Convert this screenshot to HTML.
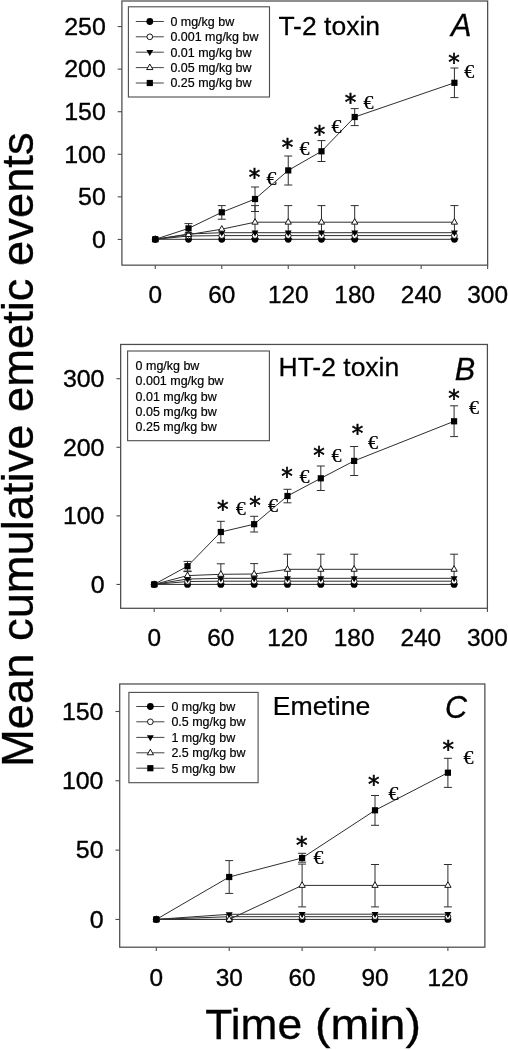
<!DOCTYPE html>
<html lang="en"><head><meta charset="utf-8"><title>Emetic events figure</title>
<style>html,body{margin:0;padding:0;background:#fff}svg{display:block}</style></head>
<body>
<svg width="508" height="1050" viewBox="0 0 508 1050">
<rect width="508" height="1050" fill="#fff"/>
<rect x="121.9" y="1" width="365.75" height="264.15" fill="none" stroke="#4c4c4c" stroke-width="1.25"/>
<line x1="117.7" y1="239.45" x2="121.9" y2="239.45" stroke="#4c4c4c" stroke-width="1.1"/>
<text transform="translate(105.8 247.73) scale(1.04 1)" font-size="24" text-anchor="end" font-family='"Liberation Sans", sans-serif' stroke="#000" stroke-width="0.35"  >0</text>
<line x1="117.7" y1="196.87" x2="121.9" y2="196.87" stroke="#4c4c4c" stroke-width="1.1"/>
<text transform="translate(105.8 205.15) scale(1.04 1)" font-size="24" text-anchor="end" font-family='"Liberation Sans", sans-serif' stroke="#000" stroke-width="0.35"  >50</text>
<line x1="117.7" y1="154.29" x2="121.9" y2="154.29" stroke="#4c4c4c" stroke-width="1.1"/>
<text transform="translate(105.8 162.57) scale(1.04 1)" font-size="24" text-anchor="end" font-family='"Liberation Sans", sans-serif' stroke="#000" stroke-width="0.35"  >100</text>
<line x1="117.7" y1="111.71" x2="121.9" y2="111.71" stroke="#4c4c4c" stroke-width="1.1"/>
<text transform="translate(105.8 119.99) scale(1.04 1)" font-size="24" text-anchor="end" font-family='"Liberation Sans", sans-serif' stroke="#000" stroke-width="0.35"  >150</text>
<line x1="117.7" y1="69.13" x2="121.9" y2="69.13" stroke="#4c4c4c" stroke-width="1.1"/>
<text transform="translate(105.8 77.41) scale(1.04 1)" font-size="24" text-anchor="end" font-family='"Liberation Sans", sans-serif' stroke="#000" stroke-width="0.35"  >200</text>
<line x1="117.7" y1="26.55" x2="121.9" y2="26.55" stroke="#4c4c4c" stroke-width="1.1"/>
<text transform="translate(105.8 34.83) scale(1.04 1)" font-size="24" text-anchor="end" font-family='"Liberation Sans", sans-serif' stroke="#000" stroke-width="0.35"  >250</text>
<line x1="155.3" y1="265.15" x2="155.3" y2="268.95" stroke="#4c4c4c" stroke-width="1.1"/>
<text x="155.3" y="303" font-size="24.4" text-anchor="middle" font-family='"Liberation Sans", sans-serif' stroke="#000" stroke-width="0.35"  >0</text>
<line x1="221.77" y1="265.15" x2="221.77" y2="268.95" stroke="#4c4c4c" stroke-width="1.1"/>
<text x="221.77" y="303" font-size="24.4" text-anchor="middle" font-family='"Liberation Sans", sans-serif' stroke="#000" stroke-width="0.35"  >60</text>
<line x1="288.24" y1="265.15" x2="288.24" y2="268.95" stroke="#4c4c4c" stroke-width="1.1"/>
<text x="288.24" y="303" font-size="24.4" text-anchor="middle" font-family='"Liberation Sans", sans-serif' stroke="#000" stroke-width="0.35"  >120</text>
<line x1="354.7" y1="265.15" x2="354.7" y2="268.95" stroke="#4c4c4c" stroke-width="1.1"/>
<text x="354.7" y="303" font-size="24.4" text-anchor="middle" font-family='"Liberation Sans", sans-serif' stroke="#000" stroke-width="0.35"  >180</text>
<line x1="421.17" y1="265.15" x2="421.17" y2="268.95" stroke="#4c4c4c" stroke-width="1.1"/>
<text x="421.17" y="303" font-size="24.4" text-anchor="middle" font-family='"Liberation Sans", sans-serif' stroke="#000" stroke-width="0.35"  >240</text>
<line x1="487.64" y1="265.15" x2="487.64" y2="268.95" stroke="#4c4c4c" stroke-width="1.1"/>
<text x="487.64" y="303" font-size="24.4" text-anchor="middle" font-family='"Liberation Sans", sans-serif' stroke="#000" stroke-width="0.35"  >300</text>
<line x1="255" y1="205.6" x2="255" y2="238.8" stroke="#2e2e2e" stroke-width="1.0"/>
<line x1="251" y1="205.6" x2="259" y2="205.6" stroke="#2e2e2e" stroke-width="1.0"/>
<line x1="251" y1="238.8" x2="259" y2="238.8" stroke="#2e2e2e" stroke-width="1.0"/>
<line x1="288.24" y1="205.6" x2="288.24" y2="238.8" stroke="#2e2e2e" stroke-width="1.0"/>
<line x1="284.24" y1="205.6" x2="292.24" y2="205.6" stroke="#2e2e2e" stroke-width="1.0"/>
<line x1="284.24" y1="238.8" x2="292.24" y2="238.8" stroke="#2e2e2e" stroke-width="1.0"/>
<line x1="321.47" y1="205.6" x2="321.47" y2="238.8" stroke="#2e2e2e" stroke-width="1.0"/>
<line x1="317.47" y1="205.6" x2="325.47" y2="205.6" stroke="#2e2e2e" stroke-width="1.0"/>
<line x1="317.47" y1="238.8" x2="325.47" y2="238.8" stroke="#2e2e2e" stroke-width="1.0"/>
<line x1="354.7" y1="205.6" x2="354.7" y2="238.8" stroke="#2e2e2e" stroke-width="1.0"/>
<line x1="350.7" y1="205.6" x2="358.7" y2="205.6" stroke="#2e2e2e" stroke-width="1.0"/>
<line x1="350.7" y1="238.8" x2="358.7" y2="238.8" stroke="#2e2e2e" stroke-width="1.0"/>
<line x1="454.41" y1="205.6" x2="454.41" y2="238.8" stroke="#2e2e2e" stroke-width="1.0"/>
<line x1="450.41" y1="205.6" x2="458.41" y2="205.6" stroke="#2e2e2e" stroke-width="1.0"/>
<line x1="450.41" y1="238.8" x2="458.41" y2="238.8" stroke="#2e2e2e" stroke-width="1.0"/>
<polyline points="155.3,239.3 188.53,239.3 221.77,239.3 255,239.3 288.24,239.3 321.47,239.3 354.7,239.3 454.41,239.3" fill="none" stroke="#2e2e2e" stroke-width="1.0"/>
<circle cx="155.3" cy="239.3" r="3.4" fill="#000"/>
<circle cx="188.53" cy="239.3" r="3.4" fill="#000"/>
<circle cx="221.77" cy="239.3" r="3.4" fill="#000"/>
<circle cx="255" cy="239.3" r="3.4" fill="#000"/>
<circle cx="288.24" cy="239.3" r="3.4" fill="#000"/>
<circle cx="321.47" cy="239.3" r="3.4" fill="#000"/>
<circle cx="354.7" cy="239.3" r="3.4" fill="#000"/>
<circle cx="454.41" cy="239.3" r="3.4" fill="#000"/>
<polyline points="155.3,239.3 188.53,236 221.77,235.6 255,235.6 288.24,235.6 321.47,235.6 354.7,235.6 454.41,235.6" fill="none" stroke="#2e2e2e" stroke-width="1.0"/>
<circle cx="155.3" cy="239.3" r="2.85" fill="#fff" stroke="#000" stroke-width="0.9"/>
<circle cx="188.53" cy="236" r="2.85" fill="#fff" stroke="#000" stroke-width="0.9"/>
<circle cx="221.77" cy="235.6" r="2.85" fill="#fff" stroke="#000" stroke-width="0.9"/>
<circle cx="255" cy="235.6" r="2.85" fill="#fff" stroke="#000" stroke-width="0.9"/>
<circle cx="288.24" cy="235.6" r="2.85" fill="#fff" stroke="#000" stroke-width="0.9"/>
<circle cx="321.47" cy="235.6" r="2.85" fill="#fff" stroke="#000" stroke-width="0.9"/>
<circle cx="354.7" cy="235.6" r="2.85" fill="#fff" stroke="#000" stroke-width="0.9"/>
<circle cx="454.41" cy="235.6" r="2.85" fill="#fff" stroke="#000" stroke-width="0.9"/>
<polyline points="155.3,239.3 188.53,234 221.77,232.7 255,232.7 288.24,232.7 321.47,232.7 354.7,232.7 454.41,232.7" fill="none" stroke="#2e2e2e" stroke-width="1.0"/>
<polygon points="151.85,237.2 158.75,237.2 155.3,243.2" fill="#000"/>
<polygon points="185.08,231.9 191.98,231.9 188.53,237.9" fill="#000"/>
<polygon points="218.32,230.6 225.22,230.6 221.77,236.6" fill="#000"/>
<polygon points="251.55,230.6 258.45,230.6 255,236.6" fill="#000"/>
<polygon points="284.79,230.6 291.69,230.6 288.24,236.6" fill="#000"/>
<polygon points="318.02,230.6 324.92,230.6 321.47,236.6" fill="#000"/>
<polygon points="351.25,230.6 358.15,230.6 354.7,236.6" fill="#000"/>
<polygon points="450.96,230.6 457.86,230.6 454.41,236.6" fill="#000"/>
<polyline points="155.3,239.3 188.53,234.6 221.77,229.2 255,222.2 288.24,222.2 321.47,222.2 354.7,222.2 454.41,222.2" fill="none" stroke="#2e2e2e" stroke-width="1.0"/>
<polygon points="152.15,241.25 158.45,241.25 155.3,235.7" fill="#fff" stroke="#000" stroke-width="0.9" stroke-linejoin="miter"/>
<polygon points="185.38,236.55 191.68,236.55 188.53,231" fill="#fff" stroke="#000" stroke-width="0.9" stroke-linejoin="miter"/>
<polygon points="218.62,231.15 224.92,231.15 221.77,225.6" fill="#fff" stroke="#000" stroke-width="0.9" stroke-linejoin="miter"/>
<polygon points="251.85,224.15 258.15,224.15 255,218.6" fill="#fff" stroke="#000" stroke-width="0.9" stroke-linejoin="miter"/>
<polygon points="285.09,224.15 291.39,224.15 288.24,218.6" fill="#fff" stroke="#000" stroke-width="0.9" stroke-linejoin="miter"/>
<polygon points="318.32,224.15 324.62,224.15 321.47,218.6" fill="#fff" stroke="#000" stroke-width="0.9" stroke-linejoin="miter"/>
<polygon points="351.55,224.15 357.85,224.15 354.7,218.6" fill="#fff" stroke="#000" stroke-width="0.9" stroke-linejoin="miter"/>
<polygon points="451.26,224.15 457.56,224.15 454.41,218.6" fill="#fff" stroke="#000" stroke-width="0.9" stroke-linejoin="miter"/>
<line x1="188.53" y1="223.6" x2="188.53" y2="233.2" stroke="#2e2e2e" stroke-width="1.0"/>
<line x1="184.53" y1="223.6" x2="192.53" y2="223.6" stroke="#2e2e2e" stroke-width="1.0"/>
<line x1="184.53" y1="233.2" x2="192.53" y2="233.2" stroke="#2e2e2e" stroke-width="1.0"/>
<line x1="221.77" y1="205.6" x2="221.77" y2="219.2" stroke="#2e2e2e" stroke-width="1.0"/>
<line x1="217.77" y1="205.6" x2="225.77" y2="205.6" stroke="#2e2e2e" stroke-width="1.0"/>
<line x1="217.77" y1="219.2" x2="225.77" y2="219.2" stroke="#2e2e2e" stroke-width="1.0"/>
<line x1="255" y1="187" x2="255" y2="211.5" stroke="#2e2e2e" stroke-width="1.0"/>
<line x1="251" y1="187" x2="259" y2="187" stroke="#2e2e2e" stroke-width="1.0"/>
<line x1="251" y1="211.5" x2="259" y2="211.5" stroke="#2e2e2e" stroke-width="1.0"/>
<line x1="288.24" y1="156" x2="288.24" y2="185" stroke="#2e2e2e" stroke-width="1.0"/>
<line x1="284.24" y1="156" x2="292.24" y2="156" stroke="#2e2e2e" stroke-width="1.0"/>
<line x1="284.24" y1="185" x2="292.24" y2="185" stroke="#2e2e2e" stroke-width="1.0"/>
<line x1="321.47" y1="140.6" x2="321.47" y2="161.5" stroke="#2e2e2e" stroke-width="1.0"/>
<line x1="317.47" y1="140.6" x2="325.47" y2="140.6" stroke="#2e2e2e" stroke-width="1.0"/>
<line x1="317.47" y1="161.5" x2="325.47" y2="161.5" stroke="#2e2e2e" stroke-width="1.0"/>
<line x1="354.7" y1="108.6" x2="354.7" y2="125.6" stroke="#2e2e2e" stroke-width="1.0"/>
<line x1="350.7" y1="108.6" x2="358.7" y2="108.6" stroke="#2e2e2e" stroke-width="1.0"/>
<line x1="350.7" y1="125.6" x2="358.7" y2="125.6" stroke="#2e2e2e" stroke-width="1.0"/>
<line x1="454.41" y1="68" x2="454.41" y2="97.6" stroke="#2e2e2e" stroke-width="1.0"/>
<line x1="450.41" y1="68" x2="458.41" y2="68" stroke="#2e2e2e" stroke-width="1.0"/>
<line x1="450.41" y1="97.6" x2="458.41" y2="97.6" stroke="#2e2e2e" stroke-width="1.0"/>
<polyline points="155.3,239.3 188.53,228.4 221.77,212.3 255,199 288.24,170.4 321.47,151.3 354.7,117 454.41,82.8" fill="none" stroke="#2e2e2e" stroke-width="1.0"/>
<rect x="152.2" y="236.2" width="6.2" height="6.2" fill="#000"/>
<rect x="185.43" y="225.3" width="6.2" height="6.2" fill="#000"/>
<rect x="218.67" y="209.2" width="6.2" height="6.2" fill="#000"/>
<rect x="251.9" y="195.9" width="6.2" height="6.2" fill="#000"/>
<rect x="285.14" y="167.3" width="6.2" height="6.2" fill="#000"/>
<rect x="318.37" y="148.2" width="6.2" height="6.2" fill="#000"/>
<rect x="351.6" y="113.9" width="6.2" height="6.2" fill="#000"/>
<rect x="451.31" y="79.7" width="6.2" height="6.2" fill="#000"/>
<text x="254.5" y="185" font-size="23" text-anchor="middle" font-family='"DejaVu Sans", "Liberation Sans", sans-serif' stroke="#000" stroke-width="0.6"  >*</text>
<text x="287.4" y="155.1" font-size="23" text-anchor="middle" font-family='"DejaVu Sans", "Liberation Sans", sans-serif' stroke="#000" stroke-width="0.6"  >*</text>
<text x="319.4" y="142.3" font-size="23" text-anchor="middle" font-family='"DejaVu Sans", "Liberation Sans", sans-serif' stroke="#000" stroke-width="0.6"  >*</text>
<text x="350.6" y="110.4" font-size="23" text-anchor="middle" font-family='"DejaVu Sans", "Liberation Sans", sans-serif' stroke="#000" stroke-width="0.6"  >*</text>
<text x="454" y="70.1" font-size="23" text-anchor="middle" font-family='"DejaVu Sans", "Liberation Sans", sans-serif' stroke="#000" stroke-width="0.6"  >*</text>
<text transform="translate(271.5 184.92) scale(1.08 1)" font-size="18.6" text-anchor="middle" font-family='"Liberation Serif", "DejaVu Serif", serif' stroke="#000" stroke-width="0.2"  >&#8364;</text>
<text transform="translate(304.5 154.72) scale(1.08 1)" font-size="18.6" text-anchor="middle" font-family='"Liberation Serif", "DejaVu Serif", serif' stroke="#000" stroke-width="0.2"  >&#8364;</text>
<text transform="translate(336.5 133.42) scale(1.08 1)" font-size="18.6" text-anchor="middle" font-family='"Liberation Serif", "DejaVu Serif", serif' stroke="#000" stroke-width="0.2"  >&#8364;</text>
<text transform="translate(368.5 108.62) scale(1.08 1)" font-size="18.6" text-anchor="middle" font-family='"Liberation Serif", "DejaVu Serif", serif' stroke="#000" stroke-width="0.2"  >&#8364;</text>
<text transform="translate(469.3 77.72) scale(1.08 1)" font-size="18.6" text-anchor="middle" font-family='"Liberation Serif", "DejaVu Serif", serif' stroke="#000" stroke-width="0.2"  >&#8364;</text>
<rect x="128.4" y="6.8" width="141.1" height="90.2" fill="#fff" stroke="#4c4c4c" stroke-width="1.1"/>
<line x1="135.8" y1="21.5" x2="163.8" y2="21.5" stroke="#444" stroke-width="1.0"/>
<circle cx="149.8" cy="21.5" r="3.4" fill="#000"/>
<text transform="translate(170.4 25.93) scale(1.015 1)" font-size="12.3" text-anchor="start" font-family='"Liberation Sans", sans-serif' stroke="#000" stroke-width="0.2"  >0 mg/kg bw</text>
<line x1="135.8" y1="36.8" x2="163.8" y2="36.8" stroke="#444" stroke-width="1.0"/>
<circle cx="149.8" cy="36.8" r="2.85" fill="#fff" stroke="#000" stroke-width="0.9"/>
<text transform="translate(170.4 41.23) scale(1.015 1)" font-size="12.3" text-anchor="start" font-family='"Liberation Sans", sans-serif' stroke="#000" stroke-width="0.2"  >0.001 mg/kg bw</text>
<line x1="135.8" y1="52.2" x2="163.8" y2="52.2" stroke="#444" stroke-width="1.0"/>
<polygon points="146.35,50.1 153.25,50.1 149.8,56.1" fill="#000"/>
<text transform="translate(170.4 56.63) scale(1.015 1)" font-size="12.3" text-anchor="start" font-family='"Liberation Sans", sans-serif' stroke="#000" stroke-width="0.2"  >0.01 mg/kg bw</text>
<line x1="135.8" y1="67.6" x2="163.8" y2="67.6" stroke="#444" stroke-width="1.0"/>
<polygon points="146.65,69.55 152.95,69.55 149.8,64" fill="#fff" stroke="#000" stroke-width="0.9" stroke-linejoin="miter"/>
<text transform="translate(170.4 72.03) scale(1.015 1)" font-size="12.3" text-anchor="start" font-family='"Liberation Sans", sans-serif' stroke="#000" stroke-width="0.2"  >0.05 mg/kg bw</text>
<line x1="135.8" y1="83" x2="163.8" y2="83" stroke="#444" stroke-width="1.0"/>
<rect x="146.7" y="79.9" width="6.2" height="6.2" fill="#000"/>
<text transform="translate(170.4 87.43) scale(1.015 1)" font-size="12.3" text-anchor="start" font-family='"Liberation Sans", sans-serif' stroke="#000" stroke-width="0.2"  >0.25 mg/kg bw</text>
<text transform="translate(278.4 34.9) scale(1.008 1)" font-size="26.3" text-anchor="start" font-family='"Liberation Sans", sans-serif' stroke="#000" stroke-width="0.25"  >T-2 toxin</text>
<text x="451" y="36.1" font-size="30.6" text-anchor="start" font-family='"Liberation Sans", sans-serif' stroke="#000" stroke-width="0.3" font-style="italic" >A</text>
<rect x="120.66" y="344.45" width="366.74" height="263.85" fill="none" stroke="#4c4c4c" stroke-width="1.25"/>
<line x1="116.46" y1="584.45" x2="120.66" y2="584.45" stroke="#4c4c4c" stroke-width="1.1"/>
<text transform="translate(104.5 592.73) scale(1.04 1)" font-size="24" text-anchor="end" font-family='"Liberation Sans", sans-serif' stroke="#000" stroke-width="0.35"  >0</text>
<line x1="116.46" y1="515.87" x2="120.66" y2="515.87" stroke="#4c4c4c" stroke-width="1.1"/>
<text transform="translate(104.5 524.15) scale(1.04 1)" font-size="24" text-anchor="end" font-family='"Liberation Sans", sans-serif' stroke="#000" stroke-width="0.35"  >100</text>
<line x1="116.46" y1="447.29" x2="120.66" y2="447.29" stroke="#4c4c4c" stroke-width="1.1"/>
<text transform="translate(104.5 455.57) scale(1.04 1)" font-size="24" text-anchor="end" font-family='"Liberation Sans", sans-serif' stroke="#000" stroke-width="0.35"  >200</text>
<line x1="116.46" y1="378.71" x2="120.66" y2="378.71" stroke="#4c4c4c" stroke-width="1.1"/>
<text transform="translate(104.5 386.99) scale(1.04 1)" font-size="24" text-anchor="end" font-family='"Liberation Sans", sans-serif' stroke="#000" stroke-width="0.35"  >300</text>
<line x1="154.2" y1="608.3" x2="154.2" y2="612.1" stroke="#4c4c4c" stroke-width="1.1"/>
<text x="154.2" y="646" font-size="24.4" text-anchor="middle" font-family='"Liberation Sans", sans-serif' stroke="#000" stroke-width="0.35"  >0</text>
<line x1="220.84" y1="608.3" x2="220.84" y2="612.1" stroke="#4c4c4c" stroke-width="1.1"/>
<text x="220.84" y="646" font-size="24.4" text-anchor="middle" font-family='"Liberation Sans", sans-serif' stroke="#000" stroke-width="0.35"  >60</text>
<line x1="287.48" y1="608.3" x2="287.48" y2="612.1" stroke="#4c4c4c" stroke-width="1.1"/>
<text x="287.48" y="646" font-size="24.4" text-anchor="middle" font-family='"Liberation Sans", sans-serif' stroke="#000" stroke-width="0.35"  >120</text>
<line x1="354.13" y1="608.3" x2="354.13" y2="612.1" stroke="#4c4c4c" stroke-width="1.1"/>
<text x="354.13" y="646" font-size="24.4" text-anchor="middle" font-family='"Liberation Sans", sans-serif' stroke="#000" stroke-width="0.35"  >180</text>
<line x1="420.77" y1="608.3" x2="420.77" y2="612.1" stroke="#4c4c4c" stroke-width="1.1"/>
<text x="420.77" y="646" font-size="24.4" text-anchor="middle" font-family='"Liberation Sans", sans-serif' stroke="#000" stroke-width="0.35"  >240</text>
<line x1="487.41" y1="608.3" x2="487.41" y2="612.1" stroke="#4c4c4c" stroke-width="1.1"/>
<text x="487.41" y="646" font-size="24.4" text-anchor="middle" font-family='"Liberation Sans", sans-serif' stroke="#000" stroke-width="0.35"  >300</text>
<line x1="187.52" y1="571.6" x2="187.52" y2="579.6" stroke="#2e2e2e" stroke-width="1.0"/>
<line x1="183.52" y1="571.6" x2="191.52" y2="571.6" stroke="#2e2e2e" stroke-width="1.0"/>
<line x1="183.52" y1="579.6" x2="191.52" y2="579.6" stroke="#2e2e2e" stroke-width="1.0"/>
<line x1="220.84" y1="563.8" x2="220.84" y2="584" stroke="#2e2e2e" stroke-width="1.0"/>
<line x1="216.84" y1="563.8" x2="224.84" y2="563.8" stroke="#2e2e2e" stroke-width="1.0"/>
<line x1="216.84" y1="584" x2="224.84" y2="584" stroke="#2e2e2e" stroke-width="1.0"/>
<line x1="254.16" y1="563.6" x2="254.16" y2="584" stroke="#2e2e2e" stroke-width="1.0"/>
<line x1="250.16" y1="563.6" x2="258.16" y2="563.6" stroke="#2e2e2e" stroke-width="1.0"/>
<line x1="250.16" y1="584" x2="258.16" y2="584" stroke="#2e2e2e" stroke-width="1.0"/>
<line x1="287.48" y1="554.2" x2="287.48" y2="584" stroke="#2e2e2e" stroke-width="1.0"/>
<line x1="283.48" y1="554.2" x2="291.48" y2="554.2" stroke="#2e2e2e" stroke-width="1.0"/>
<line x1="283.48" y1="584" x2="291.48" y2="584" stroke="#2e2e2e" stroke-width="1.0"/>
<line x1="320.8" y1="554.2" x2="320.8" y2="584" stroke="#2e2e2e" stroke-width="1.0"/>
<line x1="316.8" y1="554.2" x2="324.8" y2="554.2" stroke="#2e2e2e" stroke-width="1.0"/>
<line x1="316.8" y1="584" x2="324.8" y2="584" stroke="#2e2e2e" stroke-width="1.0"/>
<line x1="354.13" y1="554.2" x2="354.13" y2="584" stroke="#2e2e2e" stroke-width="1.0"/>
<line x1="350.13" y1="554.2" x2="358.13" y2="554.2" stroke="#2e2e2e" stroke-width="1.0"/>
<line x1="350.13" y1="584" x2="358.13" y2="584" stroke="#2e2e2e" stroke-width="1.0"/>
<line x1="454.09" y1="554.2" x2="454.09" y2="584" stroke="#2e2e2e" stroke-width="1.0"/>
<line x1="450.09" y1="554.2" x2="458.09" y2="554.2" stroke="#2e2e2e" stroke-width="1.0"/>
<line x1="450.09" y1="584" x2="458.09" y2="584" stroke="#2e2e2e" stroke-width="1.0"/>
<polyline points="154.2,584.4 187.52,584.4 220.84,584.4 254.16,584.4 287.48,584.4 320.8,584.4 354.13,584.4 454.09,584.4" fill="none" stroke="#2e2e2e" stroke-width="1.0"/>
<circle cx="154.2" cy="584.4" r="3.4" fill="#000"/>
<circle cx="187.52" cy="584.4" r="3.4" fill="#000"/>
<circle cx="220.84" cy="584.4" r="3.4" fill="#000"/>
<circle cx="254.16" cy="584.4" r="3.4" fill="#000"/>
<circle cx="287.48" cy="584.4" r="3.4" fill="#000"/>
<circle cx="320.8" cy="584.4" r="3.4" fill="#000"/>
<circle cx="354.13" cy="584.4" r="3.4" fill="#000"/>
<circle cx="454.09" cy="584.4" r="3.4" fill="#000"/>
<polyline points="154.2,584.4 187.52,581.5 220.84,581.2 254.16,581.2 287.48,581.2 320.8,581.2 354.13,581.2 454.09,581.2" fill="none" stroke="#2e2e2e" stroke-width="1.0"/>
<circle cx="154.2" cy="584.4" r="2.85" fill="#fff" stroke="#000" stroke-width="0.9"/>
<circle cx="187.52" cy="581.5" r="2.85" fill="#fff" stroke="#000" stroke-width="0.9"/>
<circle cx="220.84" cy="581.2" r="2.85" fill="#fff" stroke="#000" stroke-width="0.9"/>
<circle cx="254.16" cy="581.2" r="2.85" fill="#fff" stroke="#000" stroke-width="0.9"/>
<circle cx="287.48" cy="581.2" r="2.85" fill="#fff" stroke="#000" stroke-width="0.9"/>
<circle cx="320.8" cy="581.2" r="2.85" fill="#fff" stroke="#000" stroke-width="0.9"/>
<circle cx="354.13" cy="581.2" r="2.85" fill="#fff" stroke="#000" stroke-width="0.9"/>
<circle cx="454.09" cy="581.2" r="2.85" fill="#fff" stroke="#000" stroke-width="0.9"/>
<polyline points="154.2,584.4 187.52,579 220.84,578.3 254.16,578.3 287.48,578.3 320.8,578.3 354.13,578.3 454.09,578.3" fill="none" stroke="#2e2e2e" stroke-width="1.0"/>
<polygon points="150.75,582.3 157.65,582.3 154.2,588.3" fill="#000"/>
<polygon points="184.07,576.9 190.97,576.9 187.52,582.9" fill="#000"/>
<polygon points="217.39,576.2 224.29,576.2 220.84,582.2" fill="#000"/>
<polygon points="250.71,576.2 257.61,576.2 254.16,582.2" fill="#000"/>
<polygon points="284.03,576.2 290.93,576.2 287.48,582.2" fill="#000"/>
<polygon points="317.35,576.2 324.25,576.2 320.8,582.2" fill="#000"/>
<polygon points="350.68,576.2 357.58,576.2 354.13,582.2" fill="#000"/>
<polygon points="450.64,576.2 457.54,576.2 454.09,582.2" fill="#000"/>
<polyline points="154.2,584.4 187.52,575.6 220.84,574.3 254.16,574 287.48,569.3 320.8,569.3 354.13,569.3 454.09,569.3" fill="none" stroke="#2e2e2e" stroke-width="1.0"/>
<polygon points="151.05,586.35 157.35,586.35 154.2,580.8" fill="#fff" stroke="#000" stroke-width="0.9" stroke-linejoin="miter"/>
<polygon points="184.37,577.55 190.67,577.55 187.52,572" fill="#fff" stroke="#000" stroke-width="0.9" stroke-linejoin="miter"/>
<polygon points="217.69,576.25 223.99,576.25 220.84,570.7" fill="#fff" stroke="#000" stroke-width="0.9" stroke-linejoin="miter"/>
<polygon points="251.01,575.95 257.31,575.95 254.16,570.4" fill="#fff" stroke="#000" stroke-width="0.9" stroke-linejoin="miter"/>
<polygon points="284.33,571.25 290.63,571.25 287.48,565.7" fill="#fff" stroke="#000" stroke-width="0.9" stroke-linejoin="miter"/>
<polygon points="317.65,571.25 323.95,571.25 320.8,565.7" fill="#fff" stroke="#000" stroke-width="0.9" stroke-linejoin="miter"/>
<polygon points="350.98,571.25 357.28,571.25 354.13,565.7" fill="#fff" stroke="#000" stroke-width="0.9" stroke-linejoin="miter"/>
<polygon points="450.94,571.25 457.24,571.25 454.09,565.7" fill="#fff" stroke="#000" stroke-width="0.9" stroke-linejoin="miter"/>
<line x1="187.52" y1="561.4" x2="187.52" y2="571" stroke="#2e2e2e" stroke-width="1.0"/>
<line x1="183.52" y1="561.4" x2="191.52" y2="561.4" stroke="#2e2e2e" stroke-width="1.0"/>
<line x1="183.52" y1="571" x2="191.52" y2="571" stroke="#2e2e2e" stroke-width="1.0"/>
<line x1="220.84" y1="521.3" x2="220.84" y2="542.8" stroke="#2e2e2e" stroke-width="1.0"/>
<line x1="216.84" y1="521.3" x2="224.84" y2="521.3" stroke="#2e2e2e" stroke-width="1.0"/>
<line x1="216.84" y1="542.8" x2="224.84" y2="542.8" stroke="#2e2e2e" stroke-width="1.0"/>
<line x1="254.16" y1="516.3" x2="254.16" y2="532" stroke="#2e2e2e" stroke-width="1.0"/>
<line x1="250.16" y1="516.3" x2="258.16" y2="516.3" stroke="#2e2e2e" stroke-width="1.0"/>
<line x1="250.16" y1="532" x2="258.16" y2="532" stroke="#2e2e2e" stroke-width="1.0"/>
<line x1="287.48" y1="489.3" x2="287.48" y2="502.8" stroke="#2e2e2e" stroke-width="1.0"/>
<line x1="283.48" y1="489.3" x2="291.48" y2="489.3" stroke="#2e2e2e" stroke-width="1.0"/>
<line x1="283.48" y1="502.8" x2="291.48" y2="502.8" stroke="#2e2e2e" stroke-width="1.0"/>
<line x1="320.8" y1="466" x2="320.8" y2="490.5" stroke="#2e2e2e" stroke-width="1.0"/>
<line x1="316.8" y1="466" x2="324.8" y2="466" stroke="#2e2e2e" stroke-width="1.0"/>
<line x1="316.8" y1="490.5" x2="324.8" y2="490.5" stroke="#2e2e2e" stroke-width="1.0"/>
<line x1="354.13" y1="446.5" x2="354.13" y2="475.5" stroke="#2e2e2e" stroke-width="1.0"/>
<line x1="350.13" y1="446.5" x2="358.13" y2="446.5" stroke="#2e2e2e" stroke-width="1.0"/>
<line x1="350.13" y1="475.5" x2="358.13" y2="475.5" stroke="#2e2e2e" stroke-width="1.0"/>
<line x1="454.09" y1="405.8" x2="454.09" y2="436.6" stroke="#2e2e2e" stroke-width="1.0"/>
<line x1="450.09" y1="405.8" x2="458.09" y2="405.8" stroke="#2e2e2e" stroke-width="1.0"/>
<line x1="450.09" y1="436.6" x2="458.09" y2="436.6" stroke="#2e2e2e" stroke-width="1.0"/>
<polyline points="154.2,584.4 187.52,566.2 220.84,532 254.16,524.2 287.48,496 320.8,478.3 354.13,460.9 454.09,421.3" fill="none" stroke="#2e2e2e" stroke-width="1.0"/>
<rect x="151.1" y="581.3" width="6.2" height="6.2" fill="#000"/>
<rect x="184.42" y="563.1" width="6.2" height="6.2" fill="#000"/>
<rect x="217.74" y="528.9" width="6.2" height="6.2" fill="#000"/>
<rect x="251.06" y="521.1" width="6.2" height="6.2" fill="#000"/>
<rect x="284.38" y="492.9" width="6.2" height="6.2" fill="#000"/>
<rect x="317.7" y="475.2" width="6.2" height="6.2" fill="#000"/>
<rect x="351.03" y="457.8" width="6.2" height="6.2" fill="#000"/>
<rect x="450.99" y="418.2" width="6.2" height="6.2" fill="#000"/>
<text x="222.8" y="516.8" font-size="23" text-anchor="middle" font-family='"DejaVu Sans", "Liberation Sans", sans-serif' stroke="#000" stroke-width="0.6"  >*</text>
<text x="255" y="513" font-size="23" text-anchor="middle" font-family='"DejaVu Sans", "Liberation Sans", sans-serif' stroke="#000" stroke-width="0.6"  >*</text>
<text x="287.1" y="484.1" font-size="23" text-anchor="middle" font-family='"DejaVu Sans", "Liberation Sans", sans-serif' stroke="#000" stroke-width="0.6"  >*</text>
<text x="319.1" y="463.1" font-size="23" text-anchor="middle" font-family='"DejaVu Sans", "Liberation Sans", sans-serif' stroke="#000" stroke-width="0.6"  >*</text>
<text x="357.5" y="441.4" font-size="23" text-anchor="middle" font-family='"DejaVu Sans", "Liberation Sans", sans-serif' stroke="#000" stroke-width="0.6"  >*</text>
<text x="453.9" y="406.2" font-size="23" text-anchor="middle" font-family='"DejaVu Sans", "Liberation Sans", sans-serif' stroke="#000" stroke-width="0.6"  >*</text>
<text transform="translate(240.8 514.62) scale(1.08 1)" font-size="18.6" text-anchor="middle" font-family='"Liberation Serif", "DejaVu Serif", serif' stroke="#000" stroke-width="0.2"  >&#8364;</text>
<text transform="translate(272.9 512.12) scale(1.08 1)" font-size="18.6" text-anchor="middle" font-family='"Liberation Serif", "DejaVu Serif", serif' stroke="#000" stroke-width="0.2"  >&#8364;</text>
<text transform="translate(304.5 483.12) scale(1.08 1)" font-size="18.6" text-anchor="middle" font-family='"Liberation Serif", "DejaVu Serif", serif' stroke="#000" stroke-width="0.2"  >&#8364;</text>
<text transform="translate(336.5 461.62) scale(1.08 1)" font-size="18.6" text-anchor="middle" font-family='"Liberation Serif", "DejaVu Serif", serif' stroke="#000" stroke-width="0.2"  >&#8364;</text>
<text transform="translate(373.1 448.62) scale(1.08 1)" font-size="18.6" text-anchor="middle" font-family='"Liberation Serif", "DejaVu Serif", serif' stroke="#000" stroke-width="0.2"  >&#8364;</text>
<text transform="translate(474 413.82) scale(1.08 1)" font-size="18.6" text-anchor="middle" font-family='"Liberation Serif", "DejaVu Serif", serif' stroke="#000" stroke-width="0.2"  >&#8364;</text>
<rect x="127.6" y="351" width="141.8" height="89.7" fill="#fff" stroke="#4c4c4c" stroke-width="1.1"/>
<text transform="translate(135.6 370.03) scale(1.015 1)" font-size="12.3" text-anchor="start" font-family='"Liberation Sans", sans-serif' stroke="#000" stroke-width="0.2"  >0 mg/kg bw</text>
<text transform="translate(135.6 385.43) scale(1.015 1)" font-size="12.3" text-anchor="start" font-family='"Liberation Sans", sans-serif' stroke="#000" stroke-width="0.2"  >0.001 mg/kg bw</text>
<text transform="translate(135.6 400.73) scale(1.015 1)" font-size="12.3" text-anchor="start" font-family='"Liberation Sans", sans-serif' stroke="#000" stroke-width="0.2"  >0.01 mg/kg bw</text>
<text transform="translate(135.6 416.03) scale(1.015 1)" font-size="12.3" text-anchor="start" font-family='"Liberation Sans", sans-serif' stroke="#000" stroke-width="0.2"  >0.05 mg/kg bw</text>
<text transform="translate(135.6 431.23) scale(1.015 1)" font-size="12.3" text-anchor="start" font-family='"Liberation Sans", sans-serif' stroke="#000" stroke-width="0.2"  >0.25 mg/kg bw</text>
<text transform="translate(278.5 375.7) scale(1.008 1)" font-size="26.3" text-anchor="start" font-family='"Liberation Sans", sans-serif' stroke="#000" stroke-width="0.25"  >HT-2 toxin</text>
<text x="454.8" y="379.6" font-size="30.6" text-anchor="start" font-family='"Liberation Sans", sans-serif' stroke="#000" stroke-width="0.3" font-style="italic" >B</text>
<rect x="119.7" y="683.98" width="365.16" height="263.22" fill="none" stroke="#4c4c4c" stroke-width="1.25"/>
<line x1="115.5" y1="919.45" x2="119.7" y2="919.45" stroke="#4c4c4c" stroke-width="1.1"/>
<text transform="translate(103.5 927.73) scale(1.04 1)" font-size="24" text-anchor="end" font-family='"Liberation Sans", sans-serif' stroke="#000" stroke-width="0.35"  >0</text>
<line x1="115.5" y1="850.13" x2="119.7" y2="850.13" stroke="#4c4c4c" stroke-width="1.1"/>
<text transform="translate(103.5 858.41) scale(1.04 1)" font-size="24" text-anchor="end" font-family='"Liberation Sans", sans-serif' stroke="#000" stroke-width="0.35"  >50</text>
<line x1="115.5" y1="780.82" x2="119.7" y2="780.82" stroke="#4c4c4c" stroke-width="1.1"/>
<text transform="translate(103.5 789.1) scale(1.04 1)" font-size="24" text-anchor="end" font-family='"Liberation Sans", sans-serif' stroke="#000" stroke-width="0.35"  >100</text>
<line x1="115.5" y1="711.5" x2="119.7" y2="711.5" stroke="#4c4c4c" stroke-width="1.1"/>
<text transform="translate(103.5 719.78) scale(1.04 1)" font-size="24" text-anchor="end" font-family='"Liberation Sans", sans-serif' stroke="#000" stroke-width="0.35"  >150</text>
<line x1="156.3" y1="947.2" x2="156.3" y2="951" stroke="#4c4c4c" stroke-width="1.1"/>
<text x="156.3" y="985.6" font-size="24.4" text-anchor="middle" font-family='"Liberation Sans", sans-serif' stroke="#000" stroke-width="0.35"  >0</text>
<line x1="229.2" y1="947.2" x2="229.2" y2="951" stroke="#4c4c4c" stroke-width="1.1"/>
<text x="229.2" y="985.6" font-size="24.4" text-anchor="middle" font-family='"Liberation Sans", sans-serif' stroke="#000" stroke-width="0.35"  >30</text>
<line x1="302.1" y1="947.2" x2="302.1" y2="951" stroke="#4c4c4c" stroke-width="1.1"/>
<text x="302.1" y="985.6" font-size="24.4" text-anchor="middle" font-family='"Liberation Sans", sans-serif' stroke="#000" stroke-width="0.35"  >60</text>
<line x1="375" y1="947.2" x2="375" y2="951" stroke="#4c4c4c" stroke-width="1.1"/>
<text x="375" y="985.6" font-size="24.4" text-anchor="middle" font-family='"Liberation Sans", sans-serif' stroke="#000" stroke-width="0.35"  >90</text>
<line x1="447.9" y1="947.2" x2="447.9" y2="951" stroke="#4c4c4c" stroke-width="1.1"/>
<text x="447.9" y="985.6" font-size="24.4" text-anchor="middle" font-family='"Liberation Sans", sans-serif' stroke="#000" stroke-width="0.35"  >120</text>
<line x1="302.1" y1="864.1" x2="302.1" y2="906.9" stroke="#2e2e2e" stroke-width="1.0"/>
<line x1="298.1" y1="864.1" x2="306.1" y2="864.1" stroke="#2e2e2e" stroke-width="1.0"/>
<line x1="298.1" y1="906.9" x2="306.1" y2="906.9" stroke="#2e2e2e" stroke-width="1.0"/>
<line x1="375" y1="864.5" x2="375" y2="906.9" stroke="#2e2e2e" stroke-width="1.0"/>
<line x1="371" y1="864.5" x2="379" y2="864.5" stroke="#2e2e2e" stroke-width="1.0"/>
<line x1="371" y1="906.9" x2="379" y2="906.9" stroke="#2e2e2e" stroke-width="1.0"/>
<line x1="447.9" y1="864.5" x2="447.9" y2="906.9" stroke="#2e2e2e" stroke-width="1.0"/>
<line x1="443.9" y1="864.5" x2="451.9" y2="864.5" stroke="#2e2e2e" stroke-width="1.0"/>
<line x1="443.9" y1="906.9" x2="451.9" y2="906.9" stroke="#2e2e2e" stroke-width="1.0"/>
<polyline points="156.3,919.4 229.2,919.4 302.1,919.4 375,919.4 447.9,919.4" fill="none" stroke="#2e2e2e" stroke-width="1.0"/>
<circle cx="156.3" cy="919.4" r="3.4" fill="#000"/>
<circle cx="229.2" cy="919.4" r="3.4" fill="#000"/>
<circle cx="302.1" cy="919.4" r="3.4" fill="#000"/>
<circle cx="375" cy="919.4" r="3.4" fill="#000"/>
<circle cx="447.9" cy="919.4" r="3.4" fill="#000"/>
<polyline points="156.3,919.4 229.2,916.7 302.1,916.7 375,916.7 447.9,916.7" fill="none" stroke="#2e2e2e" stroke-width="1.0"/>
<circle cx="156.3" cy="919.4" r="2.85" fill="#fff" stroke="#000" stroke-width="0.9"/>
<circle cx="229.2" cy="916.7" r="2.85" fill="#fff" stroke="#000" stroke-width="0.9"/>
<circle cx="302.1" cy="916.7" r="2.85" fill="#fff" stroke="#000" stroke-width="0.9"/>
<circle cx="375" cy="916.7" r="2.85" fill="#fff" stroke="#000" stroke-width="0.9"/>
<circle cx="447.9" cy="916.7" r="2.85" fill="#fff" stroke="#000" stroke-width="0.9"/>
<polyline points="156.3,919.4 229.2,914.3 302.1,914.2 375,914.2 447.9,914.2" fill="none" stroke="#2e2e2e" stroke-width="1.0"/>
<polygon points="152.85,917.3 159.75,917.3 156.3,923.3" fill="#000"/>
<polygon points="225.75,912.2 232.65,912.2 229.2,918.2" fill="#000"/>
<polygon points="298.65,912.1 305.55,912.1 302.1,918.1" fill="#000"/>
<polygon points="371.55,912.1 378.45,912.1 375,918.1" fill="#000"/>
<polygon points="444.45,912.1 451.35,912.1 447.9,918.1" fill="#000"/>
<polyline points="156.3,919.4 229.2,919.4 302.1,885.4 375,885.4 447.9,885.4" fill="none" stroke="#2e2e2e" stroke-width="1.0"/>
<polygon points="153.15,921.35 159.45,921.35 156.3,915.8" fill="#fff" stroke="#000" stroke-width="0.9" stroke-linejoin="miter"/>
<polygon points="226.05,921.35 232.35,921.35 229.2,915.8" fill="#fff" stroke="#000" stroke-width="0.9" stroke-linejoin="miter"/>
<polygon points="298.95,887.35 305.25,887.35 302.1,881.8" fill="#fff" stroke="#000" stroke-width="0.9" stroke-linejoin="miter"/>
<polygon points="371.85,887.35 378.15,887.35 375,881.8" fill="#fff" stroke="#000" stroke-width="0.9" stroke-linejoin="miter"/>
<polygon points="444.75,887.35 451.05,887.35 447.9,881.8" fill="#fff" stroke="#000" stroke-width="0.9" stroke-linejoin="miter"/>
<line x1="229.2" y1="860.6" x2="229.2" y2="893.4" stroke="#2e2e2e" stroke-width="1.0"/>
<line x1="225.2" y1="860.6" x2="233.2" y2="860.6" stroke="#2e2e2e" stroke-width="1.0"/>
<line x1="225.2" y1="893.4" x2="233.2" y2="893.4" stroke="#2e2e2e" stroke-width="1.0"/>
<line x1="302.1" y1="853.3" x2="302.1" y2="862.2" stroke="#2e2e2e" stroke-width="1.0"/>
<line x1="298.1" y1="853.3" x2="306.1" y2="853.3" stroke="#2e2e2e" stroke-width="1.0"/>
<line x1="298.1" y1="862.2" x2="306.1" y2="862.2" stroke="#2e2e2e" stroke-width="1.0"/>
<line x1="375" y1="795.5" x2="375" y2="825.3" stroke="#2e2e2e" stroke-width="1.0"/>
<line x1="371" y1="795.5" x2="379" y2="795.5" stroke="#2e2e2e" stroke-width="1.0"/>
<line x1="371" y1="825.3" x2="379" y2="825.3" stroke="#2e2e2e" stroke-width="1.0"/>
<line x1="447.9" y1="758.3" x2="447.9" y2="787.4" stroke="#2e2e2e" stroke-width="1.0"/>
<line x1="443.9" y1="758.3" x2="451.9" y2="758.3" stroke="#2e2e2e" stroke-width="1.0"/>
<line x1="443.9" y1="787.4" x2="451.9" y2="787.4" stroke="#2e2e2e" stroke-width="1.0"/>
<polyline points="156.3,919.4 229.2,877 302.1,858 375,810.3 447.9,772.7" fill="none" stroke="#2e2e2e" stroke-width="1.0"/>
<rect x="153.2" y="916.3" width="6.2" height="6.2" fill="#000"/>
<rect x="226.1" y="873.9" width="6.2" height="6.2" fill="#000"/>
<rect x="299" y="854.9" width="6.2" height="6.2" fill="#000"/>
<rect x="371.9" y="807.2" width="6.2" height="6.2" fill="#000"/>
<rect x="444.8" y="769.6" width="6.2" height="6.2" fill="#000"/>
<text x="301.7" y="852.8" font-size="23" text-anchor="middle" font-family='"DejaVu Sans", "Liberation Sans", sans-serif' stroke="#000" stroke-width="0.6"  >*</text>
<text x="373.7" y="791.9" font-size="23" text-anchor="middle" font-family='"DejaVu Sans", "Liberation Sans", sans-serif' stroke="#000" stroke-width="0.6"  >*</text>
<text x="448.2" y="757" font-size="23" text-anchor="middle" font-family='"DejaVu Sans", "Liberation Sans", sans-serif' stroke="#000" stroke-width="0.6"  >*</text>
<text transform="translate(318.6 863.92) scale(1.08 1)" font-size="18.6" text-anchor="middle" font-family='"Liberation Serif", "DejaVu Serif", serif' stroke="#000" stroke-width="0.2"  >&#8364;</text>
<text transform="translate(393.4 799.52) scale(1.08 1)" font-size="18.6" text-anchor="middle" font-family='"Liberation Serif", "DejaVu Serif", serif' stroke="#000" stroke-width="0.2"  >&#8364;</text>
<text transform="translate(468.4 764.22) scale(1.08 1)" font-size="18.6" text-anchor="middle" font-family='"Liberation Serif", "DejaVu Serif", serif' stroke="#000" stroke-width="0.2"  >&#8364;</text>
<rect x="128.9" y="692.4" width="129.2" height="90.3" fill="#fff" stroke="#4c4c4c" stroke-width="1.1"/>
<line x1="136.3" y1="706.5" x2="164.4" y2="706.5" stroke="#444" stroke-width="1.0"/>
<circle cx="150.35" cy="706.5" r="3.4" fill="#000"/>
<text transform="translate(171.4 710.93) scale(1.015 1)" font-size="12.3" text-anchor="start" font-family='"Liberation Sans", sans-serif' stroke="#000" stroke-width="0.2"  >0 mg/kg bw</text>
<line x1="136.3" y1="721.8" x2="164.4" y2="721.8" stroke="#444" stroke-width="1.0"/>
<circle cx="150.35" cy="721.8" r="2.85" fill="#fff" stroke="#000" stroke-width="0.9"/>
<text transform="translate(171.4 726.23) scale(1.015 1)" font-size="12.3" text-anchor="start" font-family='"Liberation Sans", sans-serif' stroke="#000" stroke-width="0.2"  >0.5 mg/kg bw</text>
<line x1="136.3" y1="737.4" x2="164.4" y2="737.4" stroke="#444" stroke-width="1.0"/>
<polygon points="146.9,735.3 153.8,735.3 150.35,741.3" fill="#000"/>
<text transform="translate(171.4 741.83) scale(1.015 1)" font-size="12.3" text-anchor="start" font-family='"Liberation Sans", sans-serif' stroke="#000" stroke-width="0.2"  >1 mg/kg bw</text>
<line x1="136.3" y1="752.8" x2="164.4" y2="752.8" stroke="#444" stroke-width="1.0"/>
<polygon points="147.2,754.75 153.5,754.75 150.35,749.2" fill="#fff" stroke="#000" stroke-width="0.9" stroke-linejoin="miter"/>
<text transform="translate(171.4 757.23) scale(1.015 1)" font-size="12.3" text-anchor="start" font-family='"Liberation Sans", sans-serif' stroke="#000" stroke-width="0.2"  >2.5 mg/kg bw</text>
<line x1="136.3" y1="768.2" x2="164.4" y2="768.2" stroke="#444" stroke-width="1.0"/>
<rect x="147.25" y="765.1" width="6.2" height="6.2" fill="#000"/>
<text transform="translate(171.4 772.63) scale(1.015 1)" font-size="12.3" text-anchor="start" font-family='"Liberation Sans", sans-serif' stroke="#000" stroke-width="0.2"  >5 mg/kg bw</text>
<text transform="translate(272.7 714.9) scale(1.025 1)" font-size="26" text-anchor="start" font-family='"Liberation Sans", sans-serif' stroke="#000" stroke-width="0.25"  >Emetine</text>
<text x="445" y="718.3" font-size="30.6" text-anchor="start" font-family='"Liberation Sans", sans-serif' stroke="#000" stroke-width="0.3" font-style="italic" >C</text>
<text transform="translate(205.3 1038.6) scale(1.031 1)" font-size="43" text-anchor="start" font-family='"Liberation Sans", sans-serif' stroke="#000" stroke-width="0.3"  >Time</text>
<text transform="translate(315 1038.6) scale(1.082 1)" font-size="43" text-anchor="start" font-family='"Liberation Sans", sans-serif' stroke="#000" stroke-width="0.3"  >(min)</text>
<text transform="translate(32.6 766.9) rotate(-90) scale(1.007 1)" font-size="45" font-family='"Liberation Sans", sans-serif' stroke="#000" stroke-width="0.3">Mean cumulative emetic events</text>
</svg>
</body></html>
